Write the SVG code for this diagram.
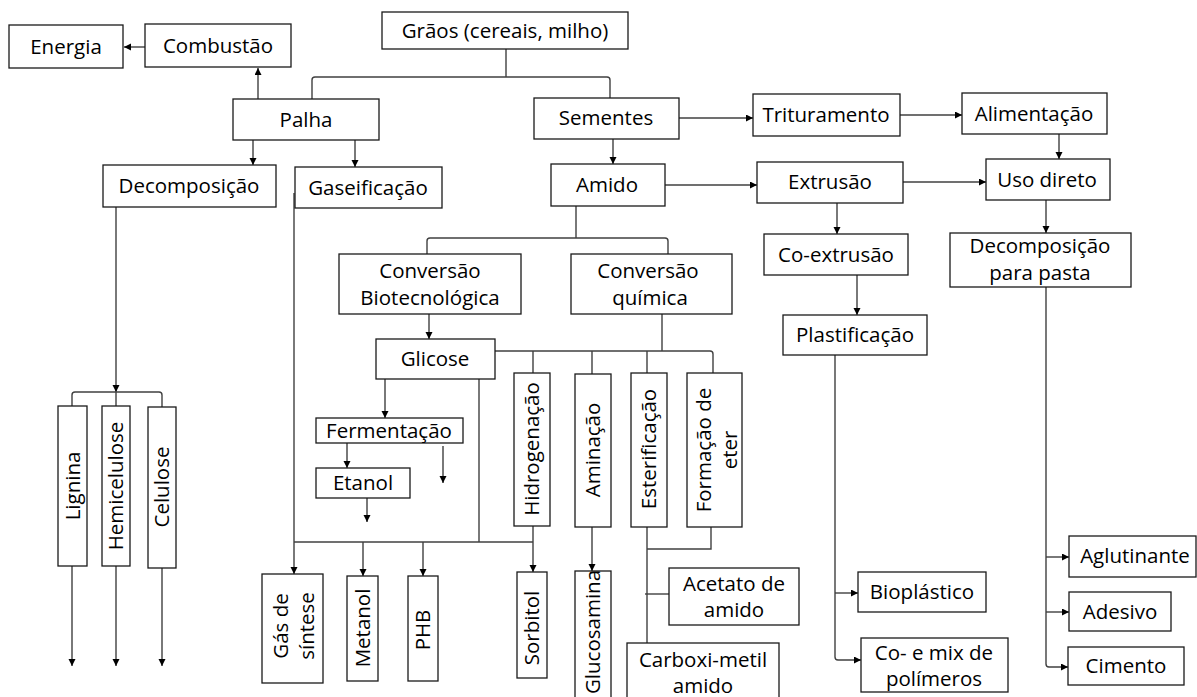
<svg xmlns="http://www.w3.org/2000/svg" width="1197" height="697" viewBox="0 0 1197 697">
<style>
.b{fill:#fff;stroke:#1a1a1a;stroke-width:1.3}
.t{font-family:"Open Sans","Noto Sans","Liberation Sans",sans-serif;font-size:20.5px;fill:#000;text-anchor:middle}
.c{fill:none;stroke:#404040;stroke-width:1.4}
.a{marker-end:url(#ah)}
</style>
<defs>
<marker id="ah" markerUnits="userSpaceOnUse" markerWidth="8" markerHeight="8" refX="7" refY="3.5" orient="auto">
<path d="M0,0 L7,3.5 L0,7 z" fill="#000"/>
</marker>
</defs>
<rect width="1197" height="697" fill="#fff"/>
<g id="connectors">
<path class="c a" d="M145,47 H124"/>
<path class="c a" d="M258,99 V68"/>
<path class="c" d="M506,49 V77"/>
<path class="c" d="M312,99 V80 Q312,77 315,77 H607 Q610,77 610,80 V98"/>
<path class="c a" d="M253,140 V165"/>
<path class="c a" d="M355,140 V167"/>
<path class="c a" d="M679,118 H753"/>
<path class="c a" d="M613,139 V164"/>
<path class="c a" d="M665,185 H757"/>
<path class="c a" d="M900,115 H962"/>
<path class="c a" d="M1059,134 V159"/>
<path class="c a" d="M903,182 H986"/>
<path class="c a" d="M837,203 V234"/>
<path class="c a" d="M1046,200 V233"/>
<path class="c a" d="M857,275 V315"/>
<path class="c a" d="M116,207 V392"/>
<path class="c" d="M116,392 V406"/>
<path class="c" d="M72,406 V395 Q72,392 75,392 H159 Q162,392 162,395 V407"/>
<path class="c a" d="M72,566 V666"/>
<path class="c a" d="M116,566 V666"/>
<path class="c a" d="M162,568 V666"/>
<path class="c a" d="M294,193 V574"/>
<path class="c" d="M576,206 V238"/>
<path class="c" d="M427,254 V241 Q427,238 430,238 H665 Q668,238 668,241 V254"/>
<path class="c a" d="M429,314 V339"/>
<path class="c" d="M662,314 V351"/>
<path class="c" d="M495,351 H710 Q713,351 713,354 V373"/>
<path class="c" d="M533,351 V373 M592,351 V374 M647,351 V373"/>
<path class="c a" d="M385,379 V418"/>
<path class="c" d="M479,379 V542"/>
<path class="c a" d="M347,443 V468"/>
<path class="c a" d="M443,446 V483"/>
<path class="c a" d="M367,498 V522"/>
<path class="c" d="M294,542 H533"/>
<path class="c a" d="M363,542 V576"/>
<path class="c a" d="M423,542 V576"/>
<path class="c a" d="M533,526 V572"/>
<path class="c a" d="M592,527 V571"/>
<path class="c" d="M647,527 V643"/>
<path class="c" d="M711,527 V549 H647"/>
<path class="c" d="M645,594 H669"/>
<path class="c a" d="M835,355 V657 Q835,660 838,660 H861"/>
<path class="c a" d="M835,593 H858"/>
<path class="c a" d="M1046,287 V664 Q1046,667 1049,667 H1068"/>
<path class="c a" d="M1046,557 H1069"/>
<path class="c a" d="M1046,612 H1069"/>
</g>
<g id="energia"><rect class="b" x="9" y="25" width="114" height="43"/><text class="t" x="66" y="54">Energia</text></g>
<g id="combustao"><rect class="b" x="145" y="24" width="146" height="43"/><text class="t" x="218" y="53">Combustão</text></g>
<g id="graos"><rect class="b" x="382" y="12" width="246" height="37"/><text class="t" x="505" y="38">Grãos (cereais, milho)</text></g>
<g id="palha"><rect class="b" x="233" y="99" width="146" height="41"/><text class="t" x="306" y="127">Palha</text></g>
<g id="sementes"><rect class="b" x="534" y="98" width="145" height="41"/><text class="t" x="606" y="125">Sementes</text></g>
<g id="trituramento"><rect class="b" x="753" y="94" width="147" height="42"/><text class="t" x="826" y="122">Trituramento</text></g>
<g id="alimentacao"><rect class="b" x="962" y="93" width="145" height="41"/><text class="t" x="1034" y="121">Alimentação</text></g>
<g id="decomposicao"><rect class="b" x="103" y="165" width="173" height="42"/><text class="t" x="189" y="193">Decomposição</text></g>
<g id="gaseificacao"><rect class="b" x="295" y="167" width="147" height="41"/><text class="t" x="368" y="195">Gaseificação</text></g>
<g id="amido"><rect class="b" x="551" y="164" width="114" height="42"/><text class="t" x="607" y="192">Amido</text></g>
<g id="extrusao"><rect class="b" x="757" y="162" width="146" height="41"/><text class="t" x="830" y="189">Extrusão</text></g>
<g id="uso-direto"><rect class="b" x="986" y="159" width="124" height="41"/><text class="t" x="1047" y="187">Uso direto</text></g>
<g id="co-extrusao"><rect class="b" x="764" y="234" width="144" height="41"/><text class="t" x="836" y="262">Co-extrusão</text></g>
<g id="decomposicao-pasta"><rect class="b" x="950" y="233" width="181" height="54"/><text class="t" x="1040" y="253">Decomposição</text><text class="t" x="1040" y="280">para pasta</text></g>
<g id="conversao-bio"><rect class="b" x="339" y="254" width="182" height="60"/><text class="t" x="430" y="278">Conversão</text><text class="t" x="430" y="305">Biotecnológica</text></g>
<g id="conversao-quimica"><rect class="b" x="571" y="254" width="161" height="60"/><text class="t" x="648" y="278">Conversão</text><text class="t" x="650" y="305">química</text></g>
<g id="plastificacao"><rect class="b" x="783" y="315" width="144" height="40"/><text class="t" x="855" y="342">Plastificação</text></g>
<g id="glicose"><rect class="b" x="376" y="339" width="119" height="40"/><text class="t" x="435" y="366">Glicose</text></g>
<g id="fermentacao"><rect class="b" x="316" y="418" width="147" height="25"/><text class="t" x="389" y="438">Fermentação</text></g>
<g id="etanol"><rect class="b" x="316" y="468" width="94" height="30"/><text class="t" x="363" y="490">Etanol</text></g>
<g id="hidrogenacao"><rect class="b" x="514" y="373" width="36" height="153"/><text class="t" transform="translate(532,449) rotate(-90)" y="7">Hidrogenação</text></g>
<g id="aminacao"><rect class="b" x="575" y="374" width="36" height="153"/><text class="t" transform="translate(593,450) rotate(-90)" y="7">Aminação</text></g>
<g id="esterificacao"><rect class="b" x="631" y="373" width="36" height="154"/><text class="t" transform="translate(649,449) rotate(-90)" y="7">Esterificação</text></g>
<g id="formacao-eter"><rect class="b" x="687" y="373" width="55" height="154"/><text class="t" transform="translate(714,450) rotate(-90)"><tspan x="0" y="-3">Formação de</tspan><tspan x="0" y="23">eter</tspan></text></g>
<g id="lignina"><rect class="b" x="58" y="406" width="29" height="160"/><text class="t" transform="translate(72.5,486) rotate(-90)" y="7">Lignina</text></g>
<g id="hemicelulose"><rect class="b" x="102" y="406" width="28" height="160"/><text class="t" transform="translate(116,486) rotate(-90)" y="7">Hemicelulose</text></g>
<g id="celulose"><rect class="b" x="148" y="407" width="28" height="161"/><text class="t" transform="translate(162,487) rotate(-90)" y="7">Celulose</text></g>
<g id="gas-sintese"><rect class="b" x="262" y="574" width="61" height="109"/><text class="t" transform="translate(292.5,626) rotate(-90)"><tspan x="0" y="-5">Gás de</tspan><tspan x="0" y="21">síntese</tspan></text></g>
<g id="metanol"><rect class="b" x="347" y="576" width="31" height="105"/><text class="t" transform="translate(362.5,628) rotate(-90)" y="7">Metanol</text></g>
<g id="phb"><rect class="b" x="408" y="576" width="30" height="105"/><text class="t" transform="translate(423,630) rotate(-90)" y="7">PHB</text></g>
<g id="sorbitol"><rect class="b" x="517" y="572" width="30" height="106"/><text class="t" transform="translate(532,628) rotate(-90)" y="7">Sorbitol</text></g>
<g id="glucosamina"><rect class="b" x="575" y="571" width="36" height="140"/><text class="t" transform="translate(593,632) rotate(-90)" y="7">Glucosamina</text></g>
<g id="acetato-amido"><rect class="b" x="669" y="568" width="130" height="57"/><text class="t" x="734" y="591">Acetato de</text><text class="t" x="734" y="617">amido</text></g>
<g id="carboxi-metil"><rect class="b" x="627" y="643" width="152" height="70"/><text class="t" x="703" y="667">Carboxi-metil</text><text class="t" x="703" y="693">amido</text></g>
<g id="bioplastico"><rect class="b" x="858" y="572" width="128" height="40"/><text class="t" x="922" y="599">Bioplástico</text></g>
<g id="co-mix"><rect class="b" x="861" y="638" width="147" height="54"/><text class="t" x="934" y="660">Co- e mix de</text><text class="t" x="934" y="686">polímeros</text></g>
<g id="aglutinante"><rect class="b" x="1069" y="536" width="127" height="41"/><text class="t" x="1135" y="563">Aglutinante</text></g>
<g id="adesivo"><rect class="b" x="1069" y="592" width="102" height="39"/><text class="t" x="1120" y="619">Adesivo</text></g>
<g id="cimento"><rect class="b" x="1068" y="647" width="116" height="38"/><text class="t" x="1126" y="673">Cimento</text></g>
</svg>
